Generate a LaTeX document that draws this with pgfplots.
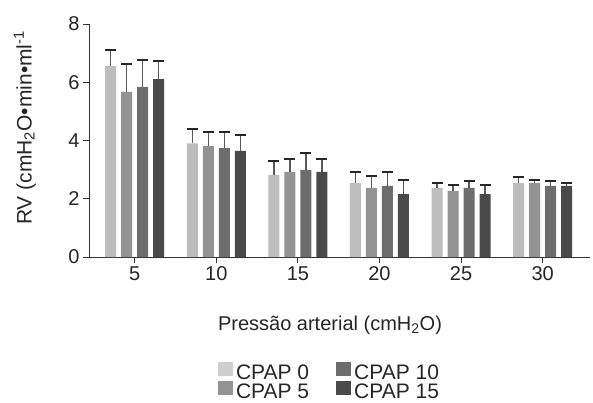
\documentclass[border=0pt]{standalone}
\usepackage{fontspec}
\setmainfont{Liberation Sans}
\usepackage{pgfplots}
\pgfplotsset{compat=1.18}

\definecolor{cp0}{HTML}{BDBDBD}
\definecolor{cp0l}{HTML}{CFCFCF}
\definecolor{cp5}{HTML}{939393}
\definecolor{cp10}{HTML}{6D6D6D}
\definecolor{cp15}{HTML}{4A4A4A}

\begin{document}
\begin{tikzpicture}
\begin{axis}[
    scale only axis,
    width=501pt, height=233pt,
    at={(0,0)}, anchor=south west,
    ymin=0, ymax=8, ytick={0,2,4,6,8},
    xmin=-0.56, xmax=5.58,
    xtick={0,1,2,3,4,5},
    xticklabels={5,10,15,20,25,30},
    axis lines=left,
    axis line style={-, line width=0.8pt, black!80},
    tick style={line width=0.8pt, black!80},
    tick align=outside,
    major tick length=6pt,
    /pgf/number format/assume math mode=true,
    ticklabel style={font=\fontsize{20}{22}\selectfont, text=black!85},
    label style={font=\fontsize{20}{22}\selectfont, text=black!85},
    ylabel={RV (cmH\textsubscript{2}O\textbullet min\textbullet ml\textsuperscript{-1}},
    ylabel style={at={(axis description cs:-0.128,0.554)}, anchor=center,
        font=\fontsize{21}{22}\selectfont},
    xlabel={Pressão arterial (cmH\textsubscript{2}O)},
    xlabel style={at={(axis description cs:0.481,-0.292)}, anchor=center},
    ybar, bar width=11pt,
    legend columns=2,
    transpose legend,
    legend cell align=left,
    legend style={draw=none, fill=none, at={(axis description cs:0.481,-0.536)}, anchor=center,
        font=\fontsize{21}{22}\selectfont, text=black!85,
        nodes={inner xsep=3pt, inner ysep=0pt, text height=13pt, text depth=3pt},
        /tikz/every even column/.append style={column sep=24pt},
        row sep=-2pt},
    legend image code/.code={\fill[#1,draw=none] (0pt,-1pt) rectangle (15pt,13pt);},
    error bars/y dir=plus,
    error bars/y explicit,
    error bars/error bar style={line width=1.4pt, color=black!65},
    error bars/error mark options={rotate=90, mark size=5.5pt, line width=2pt, color=black!85},
]
\addplot[fill=cp0, draw=none, bar shift=-24pt, legend image post style={fill=cp0l}] coordinates {
    (0,6.56) +- (0,0.55)
    (1,3.90) +- (0,0.48)
    (2,2.82) +- (0,0.48)
    (3,2.54) +- (0,0.39)
    (4,2.37) +- (0,0.18)
    (5,2.54) +- (0,0.22)
};
\addplot[fill=cp5, draw=none, bar shift=-8pt] coordinates {
    (0,5.67) +- (0,0.97)
    (1,3.81) +- (0,0.47)
    (2,2.92) +- (0,0.46)
    (3,2.37) +- (0,0.42)
    (4,2.27) +- (0,0.21)
    (5,2.54) +- (0,0.10)
};
\addplot[fill=cp10, draw=none, bar shift=8pt] coordinates {
    (0,5.84) +- (0,0.92)
    (1,3.74) +- (0,0.54)
    (2,2.99) +- (0,0.59)
    (3,2.44) +- (0,0.49)
    (4,2.37) +- (0,0.24)
    (5,2.44) +- (0,0.17)
};
\addplot[fill=cp15, draw=none, bar shift=24pt] coordinates {
    (0,6.11) +- (0,0.63)
    (1,3.64) +- (0,0.55)
    (2,2.92) +- (0,0.44)
    (3,2.16) +- (0,0.48)
    (4,2.16) +- (0,0.32)
    (5,2.44) +- (0,0.11)
};
\legend{CPAP 0, CPAP 5, CPAP 10, CPAP 15}
\end{axis}
\pgfresetboundingbox
\path (-89pt,-146pt) rectangle (504pt,257pt);
\end{tikzpicture}
\end{document}
